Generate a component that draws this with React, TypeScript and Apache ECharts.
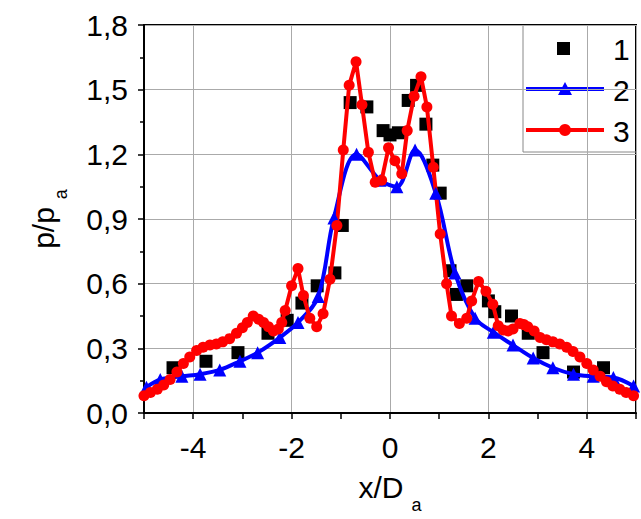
import React, { useEffect, useRef } from 'react';
import * as echarts from 'echarts';

// Series 1 (black squares)
const x1 = [-4.41, -3.74, -3.09, -2.48, -2.09, -1.79, -1.48, -1.12, -0.97, -0.81, -0.47, -0.14, 0.0, 0.17, 0.37, 0.54, 0.73, 0.87, 1.02, 1.22, 1.35, 1.56, 2.0, 2.13, 2.47, 2.81, 3.11, 3.73, 4.34];
const y1 = [0.21, 0.24, 0.28, 0.37, 0.43, 0.51, 0.59, 0.65, 0.87, 1.44, 1.42, 1.31, 1.29, 1.30, 1.45, 1.52, 1.34, 1.15, 1.02, 0.66, 0.55, 0.59, 0.52, 0.47, 0.45, 0.37, 0.28, 0.19, 0.21];

// Series 2 (blue triangles)
const x2 = [-4.95, -4.67, -4.23, -3.86, -3.46, -3.05, -2.69, -2.24, -1.87, -1.46, -1.14, -0.68, -0.2, 0.14, 0.51, 0.93, 1.32, 1.73, 2.1, 2.5, 2.91, 3.31, 3.73, 4.13, 4.54, 4.95];
const y2 = [0.12, 0.155, 0.17, 0.18, 0.20, 0.24, 0.28, 0.35, 0.42, 0.54, 0.905, 1.20, 1.08, 1.05, 1.22, 1.02, 0.65, 0.44, 0.375, 0.315, 0.255, 0.21, 0.18, 0.17, 0.165, 0.125];

// Series 3 (red circles)
const x3 = [-5.0, -4.87, -4.73, -4.6, -4.47, -4.33, -4.2, -4.07, -3.93, -3.8, -3.66, -3.53, -3.4, -3.26, -3.12, -3.0, -2.9, -2.78, -2.67, -2.57, -2.47, -2.37, -2.27, -2.2, -2.13, -2.0, -1.87, -1.76, -1.63, -1.49, -1.36, -1.22, -1.08, -0.95, -0.83, -0.69, -0.57, -0.44, -0.3, -0.17, -0.03, 0.1, 0.24, 0.35, 0.49, 0.63, 0.75, 0.88, 1.02, 1.15, 1.25, 1.41, 1.56, 1.66, 1.8, 1.95, 2.09, 2.2, 2.3, 2.4, 2.5, 2.64, 2.72, 2.8, 2.93, 3.05, 3.18, 3.31, 3.45, 3.59, 3.72, 3.86, 4.0, 4.13, 4.27, 4.4, 4.53, 4.67, 4.8, 4.95];
const y3 = [0.08, 0.095, 0.11, 0.13, 0.155, 0.19, 0.23, 0.26, 0.29, 0.305, 0.315, 0.32, 0.33, 0.345, 0.37, 0.395, 0.42, 0.45, 0.435, 0.42, 0.40, 0.38, 0.39, 0.42, 0.475, 0.59, 0.67, 0.545, 0.44, 0.40, 0.46, 0.62, 0.87, 1.22, 1.52, 1.63, 1.43, 1.21, 1.07, 1.08, 1.23, 1.17, 1.11, 1.31, 1.47, 1.56, 1.42, 1.14, 0.83, 0.60, 0.45, 0.415, 0.44, 0.52, 0.61, 0.565, 0.505, 0.405, 0.385, 0.38, 0.39, 0.415, 0.41, 0.40, 0.38, 0.35, 0.34, 0.33, 0.32, 0.305, 0.285, 0.26, 0.23, 0.20, 0.17, 0.145, 0.125, 0.11, 0.095, 0.08];

const xMin = -5;
const xMax = 5;
const yMin = 0;
const yMax = 1.8;
const yInterval = 0.3;
const legendNames = ['1', '2', '3'];

const FONT = 'Liberation Sans, Arial, sans-serif';

const zip = (xs: number[], ys: number[]) => xs.map((x, i) => [x, ys[i]]);

const nameRich = {
  a: { fontSize: 30, lineHeight: 34, fontFamily: FONT, color: '#000' },
  b: { fontSize: 18, fontFamily: FONT, color: '#000', padding: [36, 0, 0, 8] },
};

export default function App() {
  const ref = useRef<HTMLDivElement>(null);
  useEffect(() => {
    const chart = echarts.init(ref.current!, null, { renderer: 'svg' });
    const option: any = {
      animation: false,
      backgroundColor: '#fff',
      grid: { left: 144, right: 5, top: 25, bottom: 100, show: true, borderColor: '#000', borderWidth: 2, backgroundColor: 'transparent' },
      xAxis: [
        {
          type: 'value', min: xMin, max: xMax, interval: 1,
          name: '{a|x/D}{b|a}', nameLocation: 'middle', nameGap: 47,
          nameTextStyle: { rich: nameRich },
          axisLine: { show: true, onZero: false, lineStyle: { color: '#000', width: 2 } },
          axisTick: { show: true, inside: false, length: 6, lineStyle: { color: '#000', width: 1.5 } },
          axisLabel: {
            fontSize: 30, fontFamily: FONT, color: '#000', margin: 19,
            formatter: (v: number) => (Math.round(v) % 2 === 0 ? String(Math.round(v)) : ''),
          },
          splitLine: { show: false },
        },
        {
          type: 'value', min: xMin, max: xMax, splitNumber: 5, position: 'bottom',
          axisLine: { show: false }, axisTick: { show: false }, axisLabel: { show: false },
          splitLine: { show: true, lineStyle: { color: '#aaa', width: 1 } },
        },
      ],
      yAxis: {
        type: 'value', min: yMin, max: yMax, interval: yInterval,
        name: '{a|p/p}{b|a}', nameLocation: 'middle', nameGap: 74,
        nameTextStyle: { rich: nameRich },
        axisLine: { show: true, onZero: false, lineStyle: { color: '#000', width: 2 } },
        axisTick: { show: true, inside: false, length: 6, lineStyle: { color: '#000', width: 1.5 } },
        minorTick: { show: true, splitNumber: 2, length: 4, lineStyle: { color: '#000', width: 1.5 } },
        axisLabel: {
          fontSize: 30, fontFamily: FONT, color: '#000', margin: 16,
          formatter: (v: number) => v.toFixed(1).replace('.', ','),
        },
        splitLine: { show: true, lineStyle: { color: '#aaa', width: 1 } },
      },
      series: [
        {
          name: legendNames[0], type: 'scatter', data: zip(x1, y1),
          symbol: 'rect', symbolSize: 13, itemStyle: { color: '#000', opacity: 1 },
        },
        {
          name: legendNames[1], type: 'line', data: zip(x2, y2), smooth: 0.35,
          symbol: 'triangle', symbolSize: 13, showSymbol: true,
          lineStyle: { color: '#0000ff', width: 4 }, itemStyle: { color: '#0000ff' },
        },
        {
          name: legendNames[2], type: 'line', data: zip(x3, y3), smooth: false,
          symbol: 'circle', symbolSize: 11, showSymbol: true,
          lineStyle: { color: '#ff0000', width: 4 }, itemStyle: { color: '#ff0000' },
        },
      ],
      graphic: [
        {
          type: 'group', z: 100,
          children: [
            { type: 'rect', shape: { x: 523, y: 26, width: 112, height: 126 }, style: { fill: '#fff' } },
            { type: 'line', shape: { x1: 523, y1: 25, x2: 523, y2: 152 }, style: { stroke: '#888', lineWidth: 1 } },
            { type: 'line', shape: { x1: 523, y1: 152, x2: 636, y2: 152 }, style: { stroke: '#888', lineWidth: 1 } },
            { type: 'rect', shape: { x: 557, y: 42, width: 13, height: 13 }, style: { fill: '#000' } },
            { type: 'text', x: 613, y: 49, style: { text: legendNames[0], font: '30px ' + FONT, fill: '#000', verticalAlign: 'middle', align: 'left' } },
            { type: 'line', shape: { x1: 526, y1: 89, x2: 604, y2: 89 }, style: { stroke: '#0000ff', lineWidth: 4 } },
            { type: 'polygon', shape: { points: [[565, 82], [572, 95], [558, 95]] }, style: { fill: '#0000ff' } },
            { type: 'text', x: 613, y: 90, style: { text: legendNames[1], font: '30px ' + FONT, fill: '#000', verticalAlign: 'middle', align: 'left' } },
            { type: 'line', shape: { x1: 526, y1: 130, x2: 604, y2: 130 }, style: { stroke: '#ff0000', lineWidth: 4 } },
            { type: 'circle', shape: { cx: 565, cy: 130, r: 6 }, style: { fill: '#ff0000' } },
            { type: 'text', x: 613, y: 131, style: { text: legendNames[2], font: '30px ' + FONT, fill: '#000', verticalAlign: 'middle', align: 'left' } },
          ],
        },
      ],
    };
    chart.setOption(option);
    return () => chart.dispose();
  }, []);
  return <div ref={ref} style={{ position: 'fixed', left: 0, top: 0, width: 641, height: 519 }} />;
}
